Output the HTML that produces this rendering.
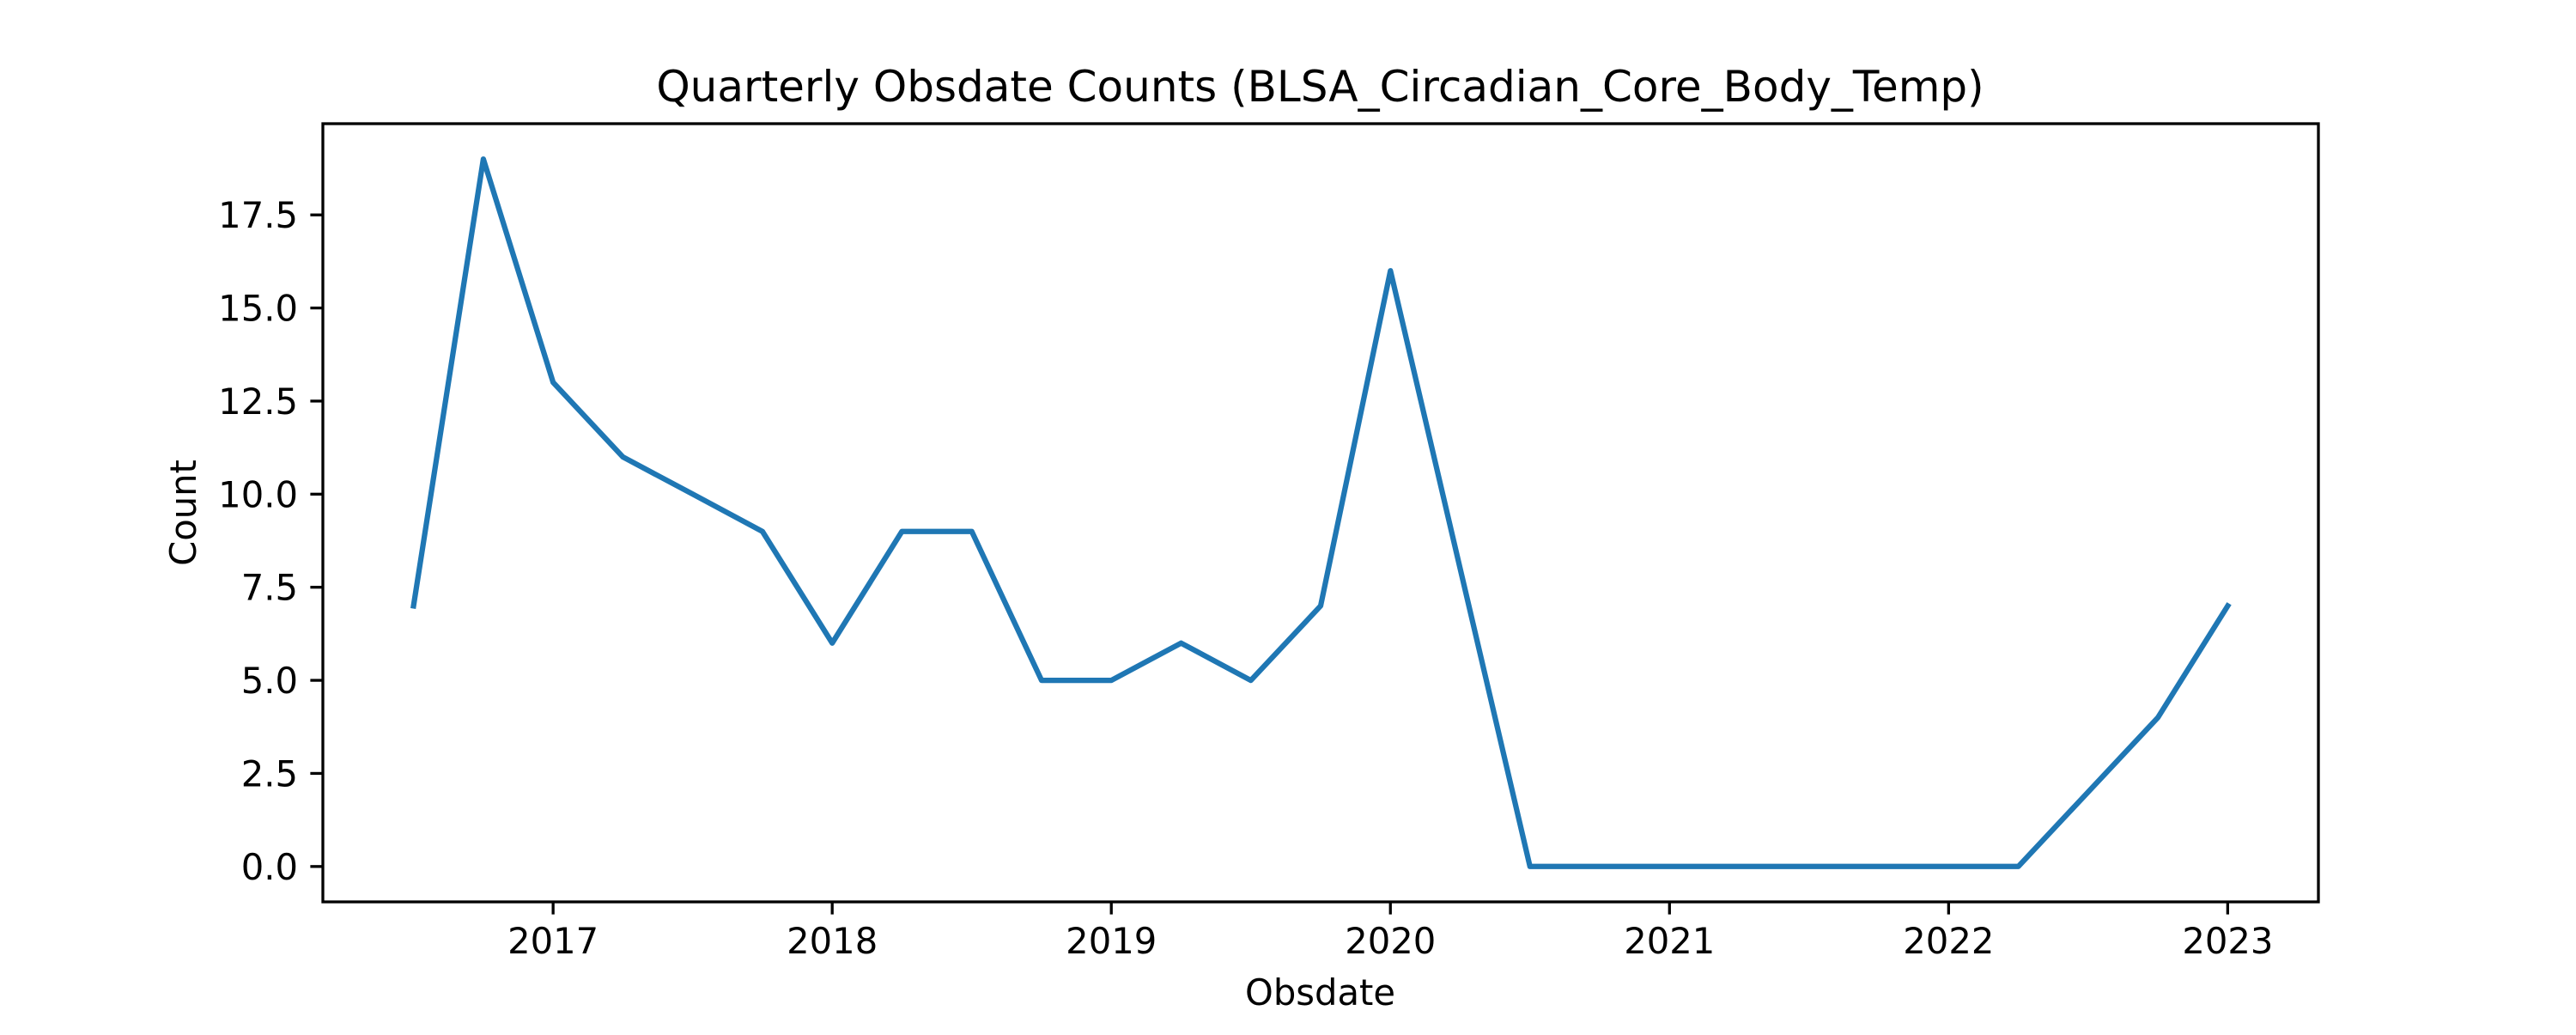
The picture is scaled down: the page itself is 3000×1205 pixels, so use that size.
<!DOCTYPE html>
<html><head><meta charset="utf-8"><style>
html,body{margin:0;padding:0;background:#fff;}
svg text{font-family:"DejaVu Sans","Liberation Sans",sans-serif;fill:#000;}
</style></head><body>
<svg id="chart" width="3000" height="1200" xmlns="http://www.w3.org/2000/svg">
<rect width="3000" height="1200" fill="#fff"/>
<text x="1537.5" y="118" font-size="50" text-anchor="middle">Quarterly Obsdate Counts (BLSA_Circadian_Core_Body_Temp)</text>
<g id="yticks"></g><g id="xticks"></g>
<polyline id="series" fill="none" stroke="#1f77b4" stroke-width="6.25" stroke-linejoin="round" stroke-linecap="square"/>
<rect x="376" y="144" width="2324" height="906" fill="none" stroke="#000" stroke-width="3.3"/>
<text x="0" y="0" font-size="41.7" text-anchor="middle" transform="translate(228,597) rotate(-90)">Count</text>
<text x="1537.5" y="1170" font-size="41.7" text-anchor="middle">Obsdate</text>
</svg>
<script>
const dates = [2016.5,2016.75,2017,2017.25,2017.5,2017.75,2018,2018.25,2018.5,2018.75,2019,2019.25,2019.5,2019.75,2020,2020.25,2020.5,2020.75,2021,2021.25,2021.5,2021.75,2022,2022.25,2022.5,2022.75,2023];
const counts = [7,19,13,11,10,9,6,9,9,5,5,6,5,7,16,8,0,0,0,0,0,0,0,0,2,4,7];
const yTicks = [0,2.5,5,7.5,10,12.5,15,17.5];
const yTickLabels = ["0.0","2.5","5.0","7.5","10.0","12.5","15.0","17.5"];
const xTicks = [2017,2018,2019,2020,2021,2022,2023];
const xTickLabels = ["2017","2018","2019","2020","2021","2022","2023"];
const L=376,R=2700,T=144,B=1050;
const xmin=Math.min(...dates),xmax=Math.max(...dates),xm=(xmax-xmin)*0.05;
const ymin=Math.min(...counts),ymax=Math.max(...counts),ym=(ymax-ymin)*0.05;
const xs=v=>L+(v-(xmin-xm))/((xmax+xm)-(xmin-xm))*(R-L);
const ys=v=>B-(v-(ymin-ym))/((ymax+ym)-(ymin-ym))*(B-T);
const NS="http://www.w3.org/2000/svg";
const line=document.getElementById('series');
line.setAttribute('points',dates.map((d,i)=>xs(d).toFixed(1)+','+ys(counts[i]).toFixed(1)).join(' '));
const yg=document.getElementById('yticks');
yTicks.forEach((v,i)=>{
  const y=ys(v);
  const t=document.createElementNS(NS,'line');
  
  
  t.setAttribute('x1',L-14.6);t.setAttribute('x2',L);t.setAttribute('y1',y);t.setAttribute('y2',y);t.setAttribute('stroke','#000');t.setAttribute('stroke-width','3.3');
  yg.appendChild(t);
  const tx=document.createElementNS(NS,'text');
  
  
  tx.setAttribute('x',L-29);tx.setAttribute('y',y+15);tx.setAttribute('font-size','41.7');tx.setAttribute('text-anchor','end');
  tx.textContent=yTickLabels[i];yg.appendChild(tx);
});
const xg=document.getElementById('xticks');
xTicks.forEach((v,i)=>{
  const x=xs(v);
  const t=document.createElementNS(NS,'line');
  
  
  t.setAttribute('x1',x);t.setAttribute('x2',x);t.setAttribute('y1',B);t.setAttribute('y2',B+14.6);t.setAttribute('stroke','#000');t.setAttribute('stroke-width','3.3');
  xg.appendChild(t);
  const tx=document.createElementNS(NS,'text');
  
  
  tx.setAttribute('x',x);tx.setAttribute('y',B+60);tx.setAttribute('font-size','41.7');tx.setAttribute('text-anchor','middle');
  tx.textContent=xTickLabels[i];xg.appendChild(tx);
});
</script>
</body></html>
